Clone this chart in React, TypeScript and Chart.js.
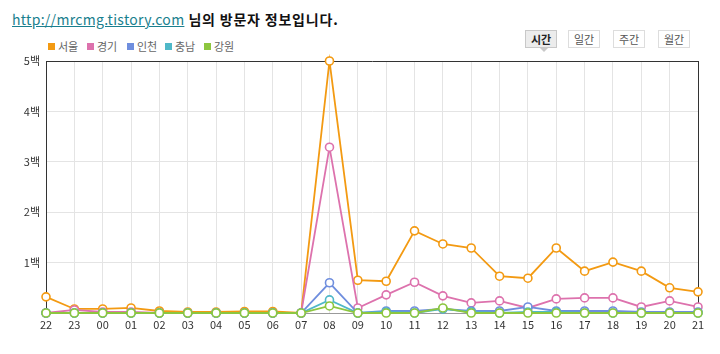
import React, { useEffect, useRef } from "react";
import { Chart, registerables } from "chart.js";

Chart.register(...registerables);

const hours = ["22", "23", "00", "01", "02", "03", "04", "05", "06", "07", "08", "09", "10", "11", "12", "13", "14", "15", "16", "17", "18", "19", "20", "21"];
const seoul = [32, 8, 8, 10, 4, 2, 2, 3, 3, 0, 500, 65, 63, 163, 137, 129, 73, 69, 129, 83, 101, 83, 50, 42];
const gyeonggi = [0, 6, 2, 2, 0, 0, 0, 0, 0, 0, 329, 10, 36, 61, 34, 20, 24, 10, 28, 30, 30, 12, 24, 12];
const incheon = [0, 0, 0, 0, 0, 0, 0, 0, 0, 0, 60, 0, 4, 4, 8, 4, 4, 12, 4, 4, 4, 2, 2, 2];
const chungnam = [0, 0, 0, 0, 0, 0, 0, 0, 0, 0, 26, 0, 2, 0, 8, 2, 0, 2, 2, 0, 0, 0, 0, 0];
const gangwon = [0, 0, 0, 0, 0, 0, 0, 0, 0, 0, 14, 0, 0, 0, 10, 0, 0, 0, 0, 0, 0, 0, 0, 0];
const seriesNames = ["서울", "경기", "인천", "충남", "강원"];
const seriesColors = ["#f39a12", "#dd72ad", "#6f8ede", "#4fb8c8", "#8dc63f"];
const yTicks = [0, 100, 200, 300, 400, 500];
const buttons = ["시간", "일간", "주간", "월간"];

const FONT = "'Noto Sans CJK KR', 'DejaVu Sans', sans-serif";

export default function App() {
  const ref = useRef<HTMLCanvasElement | null>(null);

  useEffect(() => {
    const values = [seoul, gyeonggi, incheon, chungnam, gangwon];
    const chart = new Chart(ref.current as HTMLCanvasElement, {
      type: "line",
      data: {
        labels: hours,
        datasets: values.map((d, i) => ({
          label: seriesNames[i],
          data: d,
          borderColor: seriesColors[i],
          backgroundColor: "#ffffff",
          pointBackgroundColor: "#ffffff",
          pointBorderColor: seriesColors[i],
          pointRadius: 4,
          pointBorderWidth: 1.6,
          borderWidth: 1.8,
          tension: 0,
          fill: false,
          clip: false,
          order: 4 - i,
        })),
      },
      options: {
        animation: false,
        responsive: false,
        maintainAspectRatio: false,
        layout: { padding: { left: 0, top: 61, right: 22, bottom: 0 } },
        plugins: { legend: { display: false }, tooltip: { enabled: false } },
        scales: {
          x: {
            type: "category",
            offset: false,
            grid: {
              color: (ctx: any) => (ctx.index === hours.length - 1 ? "#333333" : "#e4e4e4"),
              drawTicks: false,
            },
            border: { color: "#9a9a9a" },
            ticks: {
              padding: 5,
              color: "#333",
              font: { family: FONT, size: 11 },
              maxRotation: 0,
              autoSkip: false,
            },
            afterFit: (s: any) => {
              s.height = 41;
            },
          },
          y: {
            min: 0,
            max: 500,
            afterBuildTicks: (s: any) => {
              s.ticks = yTicks.map((v) => ({ value: v }));
            },
            grid: {
              color: (ctx: any) => (ctx.tick && ctx.tick.value === 500 ? "#333333" : "#e4e4e4"),
              drawTicks: false,
            },
            border: { color: "#333333" },
            ticks: {
              padding: 6,
              color: "#333",
              font: { family: FONT, size: 11 },
              callback: (v: any) => (v === 0 ? "" : `${v / 100}백`),
            },
            afterFit: (s: any) => {
              s.width = 46;
            },
          },
        },
      },
    });
    return () => chart.destroy();
  }, []);

  const legendX = [48, 87, 127, 165, 204];
  const btnX = [525, 568, 613, 658];

  return (
    <div style={{ position: "absolute", left: 0, top: 0, width: 720, height: 354, background: "#fff", fontFamily: FONT }}>
      <div style={{ position: "absolute", left: 12, top: 10, fontSize: 14, whiteSpace: "nowrap", lineHeight: "18px" }}>
        <span style={{ color: "#1a7f8e", textDecoration: "underline", letterSpacing: 0.3 }}>http://mrcmg.tistory.com</span>
        <span style={{ fontWeight: "bold", color: "#111", letterSpacing: 0.8 }}> 님의 방문자 정보입니다.</span>
      </div>
      {seriesNames.map((n, i) => (
        <div key={n} style={{ position: "absolute", left: legendX[i], top: 39, height: 14, display: "flex", alignItems: "center", fontSize: 11, color: "#666", whiteSpace: "nowrap" }}>
          <span style={{ display: "inline-block", width: 7, height: 7, background: seriesColors[i], marginRight: 3 }} />
          {n}
        </div>
      ))}
      {buttons.map((b, i) => (
        <div
          key={b}
          style={{
            position: "absolute",
            left: btnX[i],
            top: 30,
            width: 32,
            height: 18,
            boxSizing: "border-box",
            border: i === 0 ? "1px solid #c8c8c8" : "1px solid #dddddd",
            background: i === 0 ? "#ececec" : "#ffffff",
            fontSize: 11,
            fontWeight: i === 0 ? "bold" : "normal",
            color: i === 0 ? "#222" : "#555",
            textAlign: "center",
            lineHeight: "16px",
          }}
        >
          {b}
        </div>
      ))}
      <div style={{ position: "absolute", left: 540, top: 48, width: 0, height: 0, borderLeft: "4px solid transparent", borderRight: "4px solid transparent", borderTop: "4px solid #c8c8c8" }} />
      <canvas ref={ref} width={720} height={354} style={{ position: "absolute", left: 0, top: 0, width: 720, height: 354 }} />
    </div>
  );
}
